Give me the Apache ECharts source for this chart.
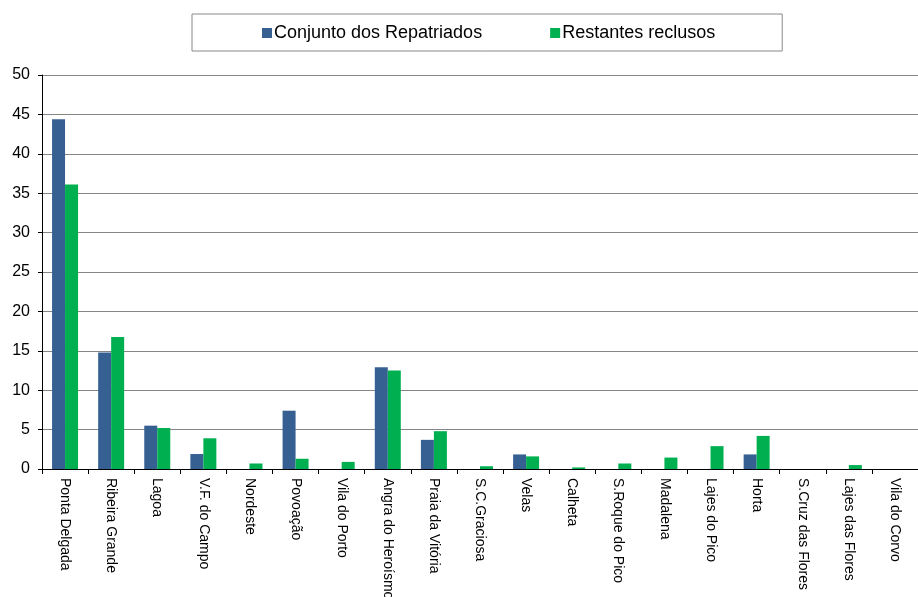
<!DOCTYPE html>
<html>
<head>
<meta charset="utf-8">
<script src="https://cdn.jsdelivr.net/npm/echarts@6/dist/echarts.min.js"></script>
<style>
  html, body { margin: 0; padding: 0; background: #fff; }
  #chart { width: 918px; height: 597px; }
</style>
</head>
<body>
<div id="chart"></div>
<script>
// concelhos
const categories = [
  'Ponta Delgada', 'Ribeira Grande', 'Lagoa', 'V.F. do Campo', 'Nordeste',
  'Povoação', 'Vila do Porto', 'Angra do Heroísmo', 'Praia da Vitória',
  'S.C.Graciosa', 'Velas', 'Calheta', 'S.Roque do Pico', 'Madalena',
  'Lajes do Pico', 'Horta', 'S.Cruz das Flores', 'Lajes das Flores', 'Vila do Corvo'
];
const repatriados = [44.4, 14.8, 5.5, 1.9, 0, 7.4, 0, 12.9, 3.7, 0, 1.85, 0, 0, 0, 0, 1.85, 0, 0, 0];
const reclusos = [36.1, 16.75, 5.2, 3.9, 0.7, 1.3, 0.9, 12.5, 4.8, 0.35, 1.6, 0.2, 0.7, 1.45, 2.9, 4.2, 0, 0.5, 0];
const yTicks = [0, 5, 10, 15, 20, 25, 30, 35, 40, 45, 50];

const myChart = echarts.init(document.getElementById('chart'));

const option = {
  animation: false,
  textStyle: { fontFamily: 'Liberation Sans, Arial, sans-serif', color: '#000' },
  legend: {
    top: 14,
    left: 192,
    padding: [10, 67, 9, 70],
    borderColor: '#888',
    borderWidth: 1,
    itemWidth: 10,
    itemHeight: 10,
    itemGap: 68,
    icon: 'rect',
    textStyle: { fontSize: 18, color: '#000', padding: [0, 0, 0, -3] },
    data: ['Conjunto dos Repatriados', 'Restantes reclusos']
  },
  grid: {
    left: 42,
    right: 0,
    top: 75,
    bottom: 128,
    containLabel: false,
    outerBoundsMode: 'none'
  },
  xAxis: {
    type: 'category',
    data: categories,
    axisLine: { lineStyle: { color: '#000', width: 1 } },
    axisTick: { show: true, length: 5, lineStyle: { color: '#000' } },
    axisLabel: {
      interval: 0,
      rotate: -90,
      margin: 9,
      fontSize: 14,
      color: '#000'
    }
  },
  yAxis: {
    type: 'value',
    min: yTicks[0],
    max: yTicks[yTicks.length - 1],
    interval: 5,
    axisLine: { show: true, lineStyle: { color: '#000', width: 1 } },
    axisTick: { show: true, length: 4, lineStyle: { color: '#000' } },
    axisLabel: { fontSize: 16, color: '#000', margin: 12 },
    splitLine: { lineStyle: { color: '#868686', width: 1 } }
  },
  series: [
    {
      name: 'Conjunto dos Repatriados',
      type: 'bar',
      data: repatriados,
      barWidth: 13,
      barGap: '0%',
      itemStyle: { color: '#376092' }
    },
    {
      name: 'Restantes reclusos',
      type: 'bar',
      data: reclusos,
      barWidth: 13,
      itemStyle: { color: '#00B050' }
    }
  ]
};

myChart.setOption(option);
window.addEventListener('resize', myChart.resize);
</script>
</body>
</html>
